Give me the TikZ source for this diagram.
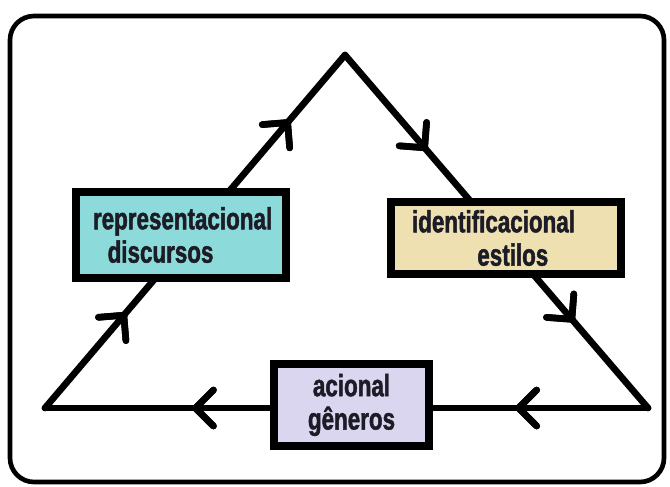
\documentclass[tikz,border=0pt]{standalone}
\usepackage{fontspec}
\newfontfamily\boxfont{Liberation Sans}[FakeStretch=0.73, BoldFeatures={FakeBold=1.5}]
\usetikzlibrary{arrows.meta,decorations.markings,backgrounds}
\definecolor{repfill}{HTML}{8CDADA}
\definecolor{identfill}{HTML}{EEE0B0}
\definecolor{acfill}{HTML}{DAD6F0}
\definecolor{inkcolor}{HTML}{1C1C26}
\tikzset{
  box/.style={draw=black, line width=6pt, text=inkcolor, inner ysep=0pt,
    font=\boxfont\bfseries\fontsize{23}{25}\selectfont},
  edge/.style={line width=5pt, line cap=round, line join=round},
  chevron/.style={decoration={markings,
      mark=at position #1 with {\arrow{Straight Barb[round,length=13.5pt,width=27pt]}}},
    postaction={decorate}},
}
\begin{document}
\begin{tikzpicture}[x=0.75pt, y=-0.75pt]
\useasboundingbox (0,0) rectangle (670,486);
\draw[line width=3.5pt, rounded corners=18pt] (10,16) rectangle (664,482);
% corners of the triangle
\coordinate (apex) at (345,55);
\coordinate (bl) at (45,408);
\coordinate (br) at (648,408);
% the three boxes
\node[box, fill=repfill, minimum height=64.5pt, inner xsep=12.75pt, text width=132pt, align=left] (rep) at (181,235)
  {representacional\\\hspace*{11pt}discursos};
\node[box, fill=identfill, minimum height=54pt, inner xsep=15.75pt, text width=141pt, align=left] (ident) at (506,238)
  {identificacional\\\hspace*{49pt}estilos};
\node[box, fill=acfill, minimum height=61.5pt, inner xsep=0pt, text width=116.25pt, align=center] (acion) at (351.5,405)
  {acional\\gêneros};
\begin{scope}[on background layer]
\foreach \a/\b/\p/\q in {bl/apex/0.27/0.816, apex/br/0.27/0.756, br/bl/0.22/0.756}{
\draw[edge, chevron=\p, chevron=\q] (\a) -- (\b);
}
\end{scope}
\end{tikzpicture}
\end{document}
